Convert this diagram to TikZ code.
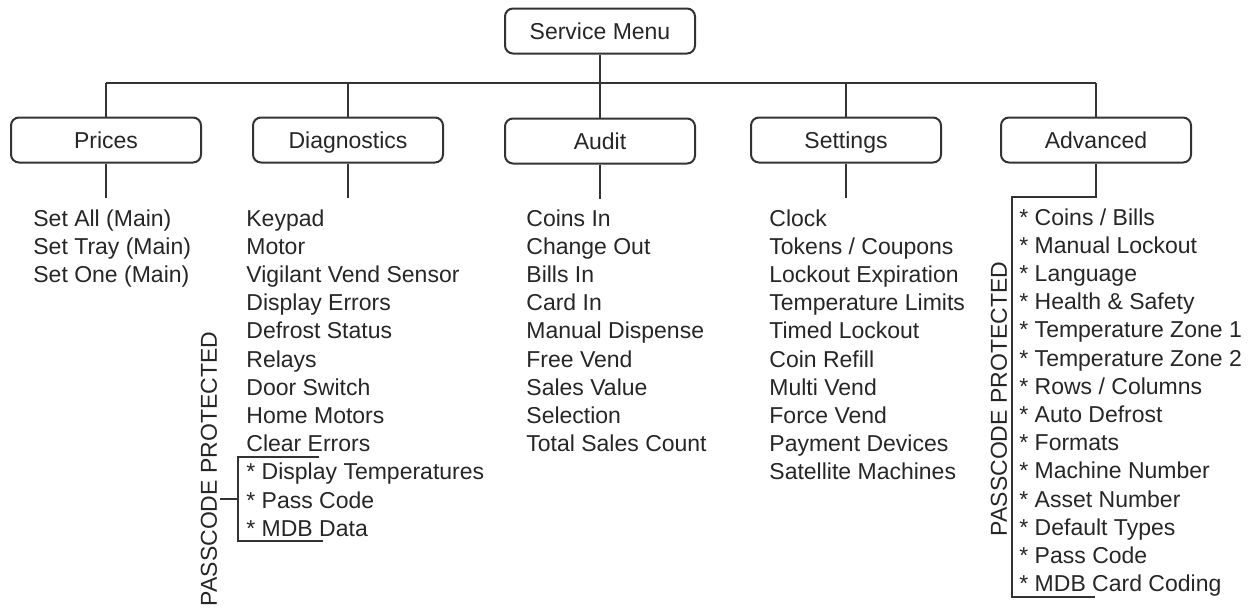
\documentclass[tikz,border=0pt]{standalone}
\usepackage{fontspec}
\setmainfont{Liberation Sans}
\begin{document}
\begin{tikzpicture}[x=0.5pt,y=-0.5pt,
  ln/.style={draw=black!80, line width=1pt},
  box/.style={draw=black!80, line width=1pt, rounded corners=4pt, minimum width=95pt, minimum height=22.5pt, font=\fontsize{11.5}{14}\selectfont, text=black!85, inner sep=0pt, text height=8.3pt, text depth=0.1pt},
  item/.style={font=\fontsize{11.5}{14}\selectfont, text=black!85, inner sep=0pt, anchor=base west},
  pp/.style={font=\fontsize{11.5}{14}\selectfont, text=black!85, inner sep=0pt, rotate=90}]
\useasboundingbox (0,0) rectangle (1256,607);
% boxes
\node[box] (sm) at (600,31) {Service Menu};
\node[box] (pr) at (106,140) {Prices};
\node[box] (dg) at (348,140) {Diagnostics};
\node[box] (au) at (600,141) {Audit};
\node[box] (st) at (846,140) {Settings};
\node[box] (ad) at (1096,140) {Advanced};
% bar
\coordinate (barL) at (106,83);
\coordinate (barR) at (1096,83);
\draw[ln] (barL) -- (barR);
\draw[ln] (sm.south) -- (sm.south |- barL);
\foreach \b in {pr,dg,au,st,ad}{
  \draw[ln] (\b.north) -- (\b.north |- barL);
}
\foreach \b in {pr,dg,au,st}{
  \draw[ln] (\b.south) -- ++(0,34);
}
% advanced bracket
\coordinate (ab1) at (1012,197);
\coordinate (ab2) at (1012,597);
\coordinate (ab3) at (1095,597);
\draw[ln] (ad.south) |- (ab1) -- (ab2) -- (ab3);
% diagnostics bracket
\coordinate (db1) at (319,457);
\coordinate (db2) at (238,457);
\coordinate (db3) at (238,541);
\coordinate (db4) at (323,541);
\coordinate (db5) at (238,499);
\coordinate (db6) at (220,499);
\draw[ln] (db1) -- (db2) -- (db3) -- (db4);
\draw[ln] (db6) -- (db5);
% items
\foreach \t [count=\i] in {Set All (Main),Set Tray (Main),Set One (Main)}
  \node[item] (pi\i) at (33,{226+28.2*(\i-1)}) {\t};
\foreach \t [count=\i] in {Keypad,Motor,Vigilant Vend Sensor,Display Errors,Defrost Status,Relays,Door Switch,Home Motors,Clear Errors,* Display Temperatures,* Pass Code,* MDB Data}
  \node[item] (di\i) at (246,{226+28.2*(\i-1)}) {\t};
\foreach \t [count=\i] in {Coins In,Change Out,Bills In,Card In,Manual Dispense,Free Vend,Sales Value,Selection,Total Sales Count}
  \node[item] (ai\i) at (526,{226+28.2*(\i-1)}) {\t};
\foreach \t [count=\i] in {Clock,Tokens / Coupons,Lockout Expiration,Temperature Limits,Timed Lockout,Coin Refill,Multi Vend,Force Vend,Payment Devices,Satellite Machines}
  \node[item] (si\i) at (769,{226+28.2*(\i-1)}) {\t};
\foreach \t [count=\i] in {* Coins / Bills,* Manual Lockout,* Language,* Health \& Safety,* Temperature Zone 1,* Temperature Zone 2,* Rows / Columns,* Auto Defrost,* Formats,* Machine Number,* Asset Number,* Default Types,* Pass Code,* MDB Card Coding}
  \node[item] (vi\i) at (1019,{225+28.2*(\i-1)}) {\t};
% passcode labels
\node[pp] (pp1) at (209,469) {PASSCODE PROTECTED};
\node[pp] (pp2) at (999,399) {PASSCODE PROTECTED};
\end{tikzpicture}
\end{document}
